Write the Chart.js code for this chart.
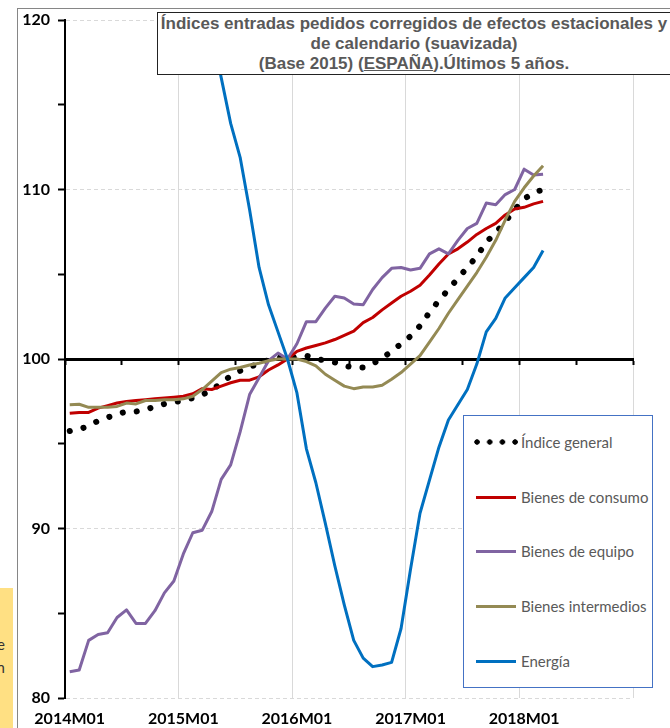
<!DOCTYPE html>
<html>
<head>
<meta charset="utf-8">
<script src="https://cdn.jsdelivr.net/npm/chart.js@4.4.1/dist/chart.umd.min.js"></script>
<style>
  body { margin: 0; background: #fff; }
  #wrap { position: relative; width: 670px; height: 728px; overflow: hidden; background: #fff; }
  #frame { position: absolute; left: 17px; top: 8px; width: 720px; height: 800px; border: 1px solid #868686; }
  #c { position: absolute; left: 0; top: 0; }
  #title { position: absolute; left: 157px; top: 12px; width: 514px; height: 63px; box-sizing: border-box;
           border: 1px solid #222; background: #fff; color: #595959; text-align: center; white-space: nowrap;
           font: bold 17px "Liberation Sans", Arial, sans-serif; line-height: 20px; padding-top: 1px; }
  #legend { position: absolute; left: 463px; top: 415px; width: 190px; height: 273px; box-sizing: border-box;
            border: 1px solid #4472C4; background: #fff; }
  .item { position: absolute; left: 10px; height: 20px; display: flex; align-items: center;
          font: 15px Lato, sans-serif; color: #595959; white-space: nowrap; }
  .sym { width: 44px; height: 6px; margin-right: 3px; position: relative; }
  .sym i { position: absolute; left: 2px; right: 2px; top: 1.5px; height: 3px; }
  #note { position: absolute; left: 0; top: 588px; width: 13px; height: 140px; background: #FFE083; overflow: hidden; }
  #note div { position: absolute; right: 8px; white-space: nowrap; font: 15px Lato, sans-serif; color: #333; }
</style>
</head>
<body>
<div id="wrap">
  <div id="frame"></div>
  <canvas id="c" width="670" height="728"></canvas>
  <div id="title">
    <div>Índices entradas pedidos corregidos de efectos estacionales y</div>
    <div>de calendario (suavizada)</div>
    <div>(Base 2015) (<u>ESPAÑA</u>).Últimos 5 años.</div>
  </div>
  <div id="legend"></div>
  <div id="note"><div style="top:47px">de</div><div style="top:70px">en</div></div>
</div>
<script>
// categories: monthly 2014M01 .. 2018M12
var years = ["2014", "2015", "2016", "2017", "2018"];
var months = ["01", "02", "03", "04", "05", "06", "07", "08", "09", "10", "11", "12"];
var labels = [];
years.forEach(function (y) { months.forEach(function (m) { labels.push(y + "M" + m); }); });

var seriesNames = ["Índice general", "Bienes de consumo", "Bienes de equipo", "Bienes intermedios", "Energía"];

// 2014M01 .. 2018M03
var indiceGeneral = [95.75, 95.85, 96.05, 96.35, 96.55, 96.75, 96.9, 96.9, 97.0, 97.2,
  97.35, 97.45, 97.55, 97.7, 97.9, 98.15, 98.6, 99.0, 99.3, 99.55,
  99.7, 99.95, 100.1, 100.0, 100.15, 100.2, 100.02, 99.9, 99.8, 99.6,
  99.5, 99.5, 99.72, 100.05, 100.45, 100.9, 101.35, 101.95, 102.75, 103.45,
  104.1, 104.75, 105.4, 106.05, 106.9, 107.45, 108.1, 108.8, 109.45, 109.8,
  110.0];
var bienesConsumo = [96.8, 96.85, 96.85, 97.1, 97.25, 97.4, 97.5, 97.55, 97.6, 97.65,
  97.7, 97.75, 97.8, 97.95, 98.25, 98.2, 98.4, 98.6, 98.75, 98.75,
  98.95, 99.35, 99.65, 100.0, 100.45, 100.65, 100.8, 100.95, 101.15, 101.4,
  101.65, 102.15, 102.45, 102.9, 103.3, 103.7, 104.0, 104.35, 104.95, 105.6,
  106.2, 106.5, 106.9, 107.35, 107.7, 108.0, 108.5, 108.85, 108.95, 109.15,
  109.3];
var bienesEquipo = [81.55, 81.65, 83.4, 83.75, 83.85, 84.75, 85.2, 84.4, 84.4, 85.15,
  86.2, 86.9, 88.5, 89.75, 89.9, 91.0, 92.9, 93.75, 95.7, 97.9,
  98.9, 99.9, 100.35, 100.0, 100.9, 102.2, 102.2, 103.0, 103.7, 103.6,
  103.25, 103.2, 104.1, 104.8, 105.35, 105.4, 105.25, 105.35, 106.2, 106.5,
  106.2, 107.0, 107.7, 108.0, 109.2, 109.1, 109.7, 110.0, 111.2, 110.85,
  110.9];
var bienesIntermedios = [97.3, 97.33, 97.15, 97.15, 97.15, 97.2, 97.4, 97.35, 97.55, 97.55,
  97.6, 97.6, 97.65, 97.8, 98.2, 98.7, 99.2, 99.4, 99.5, 99.65,
  99.75, 99.9, 100.0, 100.0, 100.0, 99.85, 99.6, 99.1, 98.75, 98.4,
  98.25, 98.35, 98.35, 98.45, 98.8, 99.2, 99.7, 100.2, 101.0, 101.8,
  102.7, 103.5, 104.3, 105.1, 106.0, 107.0, 108.2, 109.3, 110.1, 110.8,
  111.4];
var energia = [131.5, 131.0, 130.8, 130.2, 129.6, 129.0, 128.5, 128.2, 127.6, 127.0,
  126.2, 125.3, 124.3, 123.0, 121.6, 119.4, 116.6, 113.9, 111.9, 108.8,
  105.4, 103.2, 101.6, 100.0, 98.0, 94.7, 92.7, 90.3, 87.8, 85.5,
  83.4, 82.35, 81.85, 81.95, 82.1, 84.1, 87.6, 90.9, 92.85, 94.8,
  96.4, 97.3, 98.2, 99.7, 101.6, 102.4, 103.6, 104.2, 104.8, 105.4,
  106.4];

var yMin = 80, yMax = 120, yStep = 5, yLabelStep = 10, baseLine = 100;

var axisFont = { family: "Lato", size: 16, weight: "bold" };

var ctx = document.getElementById("c").getContext("2d");
var chart = new Chart(ctx, {
  type: "line",
  data: {
    labels: labels,
    datasets: [
      { label: seriesNames[0], data: indiceGeneral, borderColor: "#000000", borderWidth: 6,
        borderDash: [0.1, 14], borderCapStyle: "round", order: 5 },
      { label: seriesNames[1], data: bienesConsumo, borderColor: "#C00000", borderWidth: 3, order: 4 },
      { label: seriesNames[2], data: bienesEquipo, borderColor: "#8064A2", borderWidth: 3, order: 3 },
      { label: seriesNames[3], data: bienesIntermedios, borderColor: "#948A54", borderWidth: 3, order: 2 },
      { label: seriesNames[4], data: energia, borderColor: "#0070C0", borderWidth: 3, order: 1 },
    ],
  },
  options: {
    responsive: false,
    animation: false,
    layout: { padding: { top: 20, right: 37, left: 0, bottom: 0 } },
    elements: {
      point: { radius: 0, hoverRadius: 0 },
      line: { tension: 0, borderJoinStyle: "round" },
    },
    plugins: { legend: { display: false }, tooltip: { enabled: false } },
    scales: {
      x: {
        type: "category",
        offset: true,
        grid: {
          offset: true,
          drawTicks: false,
          color: function (c) { return (c.index === undefined || c.index % 12 === 0) ? "#D9D9D9" : "transparent"; },
        },
        border: { display: false },
        ticks: {
          autoSkip: false, maxRotation: 0, minRotation: 0, padding: 11, color: "#000", font: axisFont,
          callback: function (v, i) { return i % 12 === 0 ? labels[i] : ""; },
        },
        afterFit: function (s) { s.height = 30; },
      },
      x2: {
        type: "category",
        axis: "x",
        offset: true,
        position: { y: baseLine },
        grid: {
          offset: true, drawOnChartArea: false, drawTicks: true, tickLength: 4, tickWidth: 2,
          tickColor: function (c) { return (c.index === undefined || c.index % 6 === 0) ? "#000" : "transparent"; },
        },
        border: { color: "#000", width: 3 },
        ticks: { display: false },
      },
      y: {
        min: yMin,
        max: yMax,
        ticks: {
          stepSize: yStep, padding: 8, color: "#000", font: axisFont,
          callback: function (v) { return v % yLabelStep === 0 ? v : ""; },
        },
        grid: {
          color: function (c) {
            if (!c.tick) return "transparent";
            var v = c.tick.value;
            return (v % yLabelStep === 0 && v !== baseLine) ? "#D9D9D9" : "transparent";
          },
          tickColor: "#000", tickLength: 7, tickWidth: 2,
        },
        border: { color: "#000", width: 2, dash: [4, 3] },
        afterFit: function (s) { s.width = 65; },
      },
    },
  },
});

// legend box
var legend = document.getElementById("legend");
var rowTops = [16, 71, 125, 180, 235];
chart.data.datasets.forEach(function (ds, i) {
  var item = document.createElement("div");
  item.className = "item";
  item.style.top = rowTops[i] + "px";
  var sym = document.createElement("span");
  sym.className = "sym";
  if (ds.borderDash && ds.borderDash.length) {
    sym.style.background = "radial-gradient(circle at 3px 3px, #000 2.4px, rgba(0,0,0,0) 3px) 0 0 / 12.7px 6px repeat-x";
  } else {
    var bar = document.createElement("i");
    bar.style.background = ds.borderColor;
    sym.appendChild(bar);
  }
  item.appendChild(sym);
  item.appendChild(document.createTextNode(ds.label));
  legend.appendChild(item);
});
</script>
</body>
</html>
